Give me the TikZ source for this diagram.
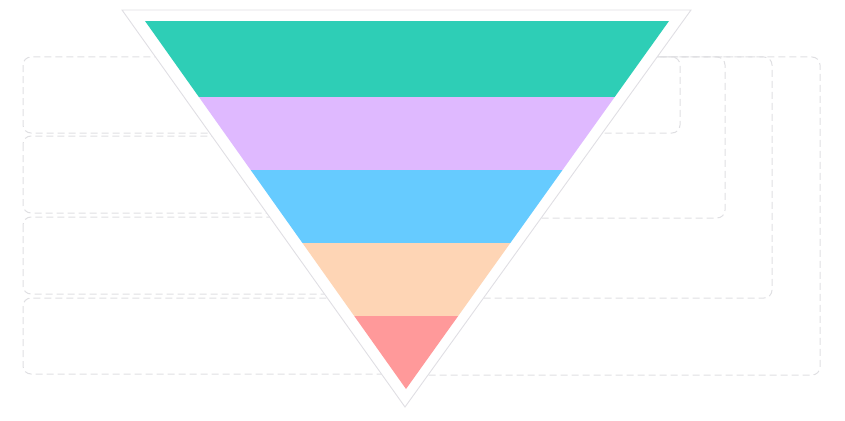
\documentclass[tikz,border=0pt]{standalone}
\usepackage{tikz}
\usetikzlibrary{calc}
\definecolor{bandA}{HTML}{2ECEB6}
\definecolor{bandB}{HTML}{DFB9FF}
\definecolor{bandC}{HTML}{66CBFF}
\definecolor{bandD}{HTML}{FED5B5}
\definecolor{bandE}{HTML}{FF999A}
\definecolor{rim}{HTML}{E0DFE4}
\definecolor{slot}{HTML}{DFDFE2}
\tikzset{
  slotbox/.style={draw=slot, line width=1pt, dash pattern=on 7pt off 4pt,
                  rounded corners=8pt},
  rimline/.style={draw=rim, fill=white, line width=0.9pt, line join=miter},
}
\begin{document}
\begin{tikzpicture}[x=1pt, y=-1pt]
        \useasboundingbox (0,0) rectangle (845,420);
        % label slots, left side stacked
        \foreach \t/\b in {57/133, 136/213, 217/294, 298/374}
          { \draw[slotbox] (23,\t) rectangle (405,\b); }
        % label slots, right side nested
        \foreach \r/\b in {680/133, 725/218, 772/298, 820/375}
          { \draw[slotbox] (405,57) rectangle (\r,\b); }
        % funnel frame
        \coordinate (fl) at (122,10);
        \coordinate (fr) at (691,10);
        \coordinate (fb) at (405,407);
        \draw[rimline] (fl) -- (fr) -- (fb) -- cycle;
        % funnel bands
        \begin{scope}
          \clip (145,21) -- (669,21) -- (406,389) -- cycle;
          \foreach \ya/\yb/\c in {21/97/bandA, 97/170/bandB, 170/243/bandC,
                                  243/316/bandD, 316/390/bandE}
            { \fill[\c] (140,\ya) rectangle (675,\yb+0.4); }
        \end{scope}
      \end{tikzpicture}
\end{document}
